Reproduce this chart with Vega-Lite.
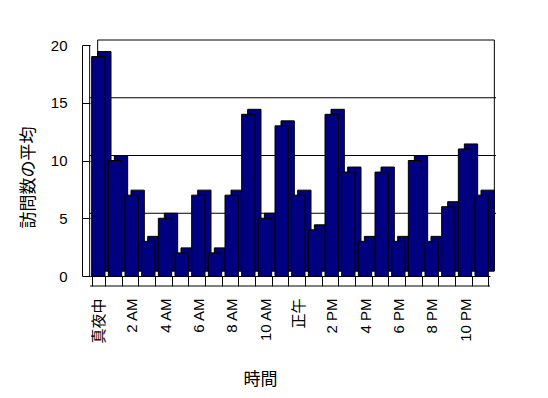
{
  "$schema": "https://vega.github.io/schema/vega-lite/v6.json",
  "autosize": "none",
  "width": 400,
  "height": 231,
  "padding": {"left": 90, "top": 45, "right": 58, "bottom": 122},
  "background": "white",
  "config": {
    "view": {"stroke": null},
    "font": "Liberation Sans, Noto Sans CJK JP",
    "axis": {"labelFont": "Liberation Sans, Noto Sans CJK JP", "titleFont": "Noto Sans CJK JP", "labelColor": "black", "titleColor": "black", "domainColor": "black", "tickColor": "black", "titleFontWeight": "normal"}
  },
  "data": {
    "values": [
      {"hour": "真夜中", "visits": 19},
      {"hour": "1 AM", "visits": 10},
      {"hour": "2 AM", "visits": 7},
      {"hour": "3 AM", "visits": 3},
      {"hour": "4 AM", "visits": 5},
      {"hour": "5 AM", "visits": 2},
      {"hour": "6 AM", "visits": 7},
      {"hour": "7 AM", "visits": 2},
      {"hour": "8 AM", "visits": 7},
      {"hour": "9 AM", "visits": 14},
      {"hour": "10 AM", "visits": 5},
      {"hour": "11 AM", "visits": 13},
      {"hour": "正午", "visits": 7},
      {"hour": "1 PM", "visits": 4},
      {"hour": "2 PM", "visits": 14},
      {"hour": "3 PM", "visits": 9},
      {"hour": "4 PM", "visits": 3},
      {"hour": "5 PM", "visits": 9},
      {"hour": "6 PM", "visits": 3},
      {"hour": "7 PM", "visits": 10},
      {"hour": "8 PM", "visits": 3},
      {"hour": "9 PM", "visits": 6},
      {"hour": "10 PM", "visits": 11},
      {"hour": "11 PM", "visits": 7}
    ]
  },
  "layer": [
    {
      "mark": {"type": "bar", "fill": "#000080", "stroke": "black", "strokeWidth": 1, "opacity": 0},
      "encoding": {
        "x": {"field": "hour", "type": "nominal", "sort": null,
          "scale": {"domain": ["真夜中","1 AM","2 AM","3 AM","4 AM","5 AM","6 AM","7 AM","8 AM","9 AM","10 AM","11 AM","正午","1 PM","2 PM","3 PM","4 PM","5 PM","6 PM","7 PM","8 PM","9 PM","10 PM","11 PM"], "paddingInner": 0.2, "paddingOuter": 0.1},
          "axis": {"title": "時間", "titleFontSize": 17, "titlePadding": 28, "titleX": 170, "labelAngle": -90, "labelFontSize": 15, "labelPadding": 12, "labelOverlap": false, "labelOffset": 0,
            "tickBand": "extent", "tickSize": 10, "labelExpr": "indexof(['真夜中','2 AM','4 AM','6 AM','8 AM','10 AM','正午','2 PM','4 PM','6 PM','8 PM','10 PM'], datum.label) >= 0 ? datum.label : ''"}},
        "y": {"field": "visits", "type": "quantitative", "scale": {"domain": [0, 20]},
          "axis": {"title": "訪問数の平均", "titleFontSize": 17, "titlePadding": 13, "titleY": 132, "values": [0, 5, 10, 15, 20], "offset": 8, "tickSize": -8, "labelPadding": 23, "labelFontSize": 15, "grid": false}}
      }
    },
    {
      "data": {"values": [{"lo": 0, "hi": 20, "a": "真夜中", "b": "11 PM"}]},
      "mark": {"type": "rect", "fill": "white", "stroke": "black", "strokeWidth": 1, "xOffset": 6, "x2Offset": 6, "yOffset": -5, "y2Offset": -5},
      "encoding": {
        "x": {"field": "a", "type": "nominal", "bandPosition": 0},
        "x2": {"field": "b", "bandPosition": 1},
        "y": {"field": "lo", "type": "quantitative"},
        "y2": {"field": "hi"}
      }
    },
    {
      "data": {"values": [{"g": 5}, {"g": 10}, {"g": 15}]},
      "mark": {"type": "rule", "color": "black", "strokeWidth": 1, "xOffset": 6, "x2Offset": 6, "yOffset": -5},
      "encoding": {
        "y": {"field": "g", "type": "quantitative"}
      }
    },
    {
      "data": {"values": [{"a": "真夜中"}]},
      "mark": {"type": "rule", "color": "black", "strokeWidth": 1, "xOffset": -2},
      "encoding": {
        "x": {"field": "a", "type": "nominal", "bandPosition": 0}
      }
    },
    {
      "mark": {"type": "bar", "fill": "#000080", "stroke": "black", "strokeWidth": 1, "xOffset": 6, "x2Offset": 6, "yOffset": -5, "y2Offset": -5},
      "encoding": {
        "x": {"field": "hour", "type": "nominal", "sort": null},
        "y": {"field": "visits", "type": "quantitative"}
      }
    },
    {
      "mark": {"type": "bar", "fill": "#000080", "stroke": "black", "strokeWidth": 1},
      "encoding": {
        "x": {"field": "hour", "type": "nominal", "sort": null},
        "y": {"field": "visits", "type": "quantitative"}
      }
    },
    {
      "data": {"values": [{"z": 0}]},
      "mark": {"type": "rule", "color": "black", "strokeWidth": 1, "yOffset": 10},
      "encoding": {
        "y": {"field": "z", "type": "quantitative"}
      }
    }
  ]
}
